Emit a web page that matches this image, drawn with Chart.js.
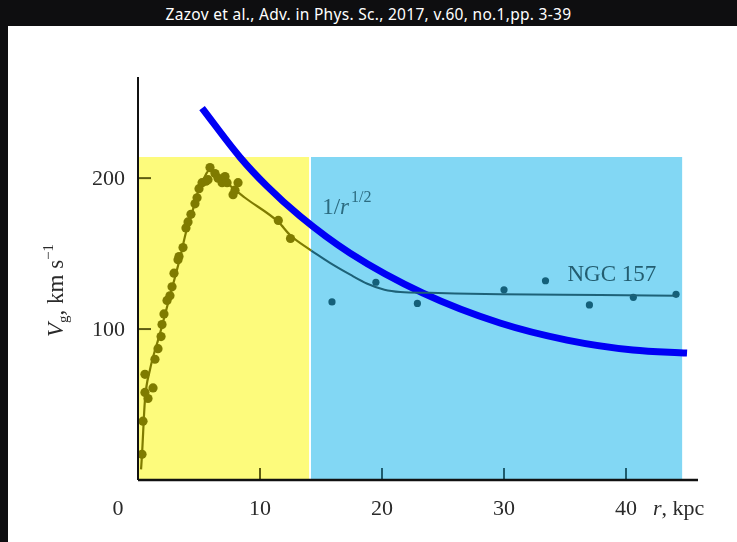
<!DOCTYPE html>
<html>
<head>
<meta charset="utf-8">
<script src="https://cdn.jsdelivr.net/npm/chart.js@4"></script>
<style>
  html, body { margin: 0; padding: 0; }
  body { width: 737px; height: 542px; background: #0e0e10; position: relative; overflow: hidden; }
  #caption { position: absolute; left: 0; top: 3px; width: 737px; text-align: center; color: #fff;
             font: 15.5px "Noto Sans", sans-serif; letter-spacing: 0.3px; }
  #panel { position: absolute; left: 8px; top: 26px; width: 729px; height: 516px; background: #fff; }
</style>
</head>
<body>
<div id="caption">Zazov et al., Adv. in Phys. Sc., 2017, v.60, no.1,pp. 3-39</div>
<div id="panel"><canvas id="rc" width="729" height="516"></canvas></div>
<script>
// measured points, inner part (olive, over yellow)
const innerR = [0.33, 0.41, 0.57, 0.82, 1.23, 0.57, 1.39, 1.64, 1.89, 1.97, 2.13, 2.38, 2.62, 2.79, 2.95, 3.28,
  3.36, 3.69, 3.93, 4.1, 4.34, 4.67, 4.84, 5.0, 5.25, 5.57, 5.74, 5.9, 6.31, 6.56, 6.89, 7.13, 7.3, 7.79, 7.95, 8.2, 11.5, 12.5]
const innerV = [17, 39, 58, 54, 61, 70, 80, 87, 95, 103, 110, 119, 122, 128, 137, 146,
  148, 154, 167, 171, 176, 183, 187, 193, 197, 198, 199, 207, 203, 200, 197, 201, 197, 189, 192, 197, 172, 160]

// measured points, outer part (teal, over blue)
const outerR = [15.9, 19.5, 22.9, 30.0, 33.4, 37.0, 40.6, 44.1]
const outerV = [118, 131, 117, 126, 132, 116, 121, 123]

// fitted rotation curve
const fitInR = [0.25, 0.33, 0.57, 0.98, 1.8, 2.62, 3.44, 3.93, 4.43, 4.92, 5.41, 5.82, 6.39, 7.54, 8.77, 11.5, 12.5, 14.2]
const fitInV = [7, 17, 53, 73, 97, 122, 147, 164, 177, 191, 200, 205, 202, 195, 187, 171, 162, 152]
const fitOutR = [14.2, 15.7, 17.4, 18.8, 20.2, 21.5, 23.9, 29.7, 37.9, 44.2]
const fitOutV = [152, 144, 136, 130, 126, 124.5, 124, 123, 122.5, 122]

// the blue 1/sqrt(r)-like curve drawn on top
const blueR = [5.25, 8.36, 10.57, 13.28, 17.38, 23.36, 29.67, 35.16, 40.57, 45.0]
const blueV = [246.4, 213.9, 194.7, 174.8, 150.3, 123.8, 104, 92.7, 86.1, 84.1]

// coloured bands
const bandFrom = [0, 14.18]
const bandTo = [14.02, 44.6]
const bandTop = [214, 214]
const bandColor = ['#fdfb7c', '#82d7f4']

const xTicks = [10, 20, 30, 40]
const yTicks = [100, 200]

const pts = (xs, ys) => xs.map((v, i) => ({ x: v, y: ys[i] }))

const SERIF = '"Liberation Serif", "DejaVu Serif", serif'

const decor = {
  id: 'decor',
  beforeDatasetsDraw(chart) {
    const { ctx, scales: { x, y } } = chart
    ctx.save()
    bandFrom.forEach((f, i) => {
      const x0 = x.getPixelForValue(f), x1 = x.getPixelForValue(bandTo[i])
      const y0 = y.getPixelForValue(bandTop[i]), y1 = y.getPixelForValue(0)
      ctx.fillStyle = bandColor[i]
      ctx.fillRect(x0, y0, x1 - x0, y1 - y0)
    })
    // inward tick marks
    ctx.lineWidth = 2
    xTicks.forEach(t => {
      const px = x.getPixelForValue(t)
      ctx.strokeStyle = t < 14 ? '#5e5c12' : '#1f5c6e'
      ctx.beginPath()
      ctx.moveTo(px, y.getPixelForValue(0))
      ctx.lineTo(px, y.getPixelForValue(0) - 12)
      ctx.stroke()
    })
    yTicks.forEach(t => {
      const py = y.getPixelForValue(t)
      ctx.strokeStyle = '#5e5c12'
      ctx.beginPath()
      ctx.moveTo(x.getPixelForValue(0), py)
      ctx.lineTo(x.getPixelForValue(0) + 13, py)
      ctx.stroke()
    })
    ctx.restore()
  },
  afterDatasetsDraw(chart) {
    const { ctx, chartArea, scales: { x, y } } = chart
    const x0 = x.getPixelForValue(0), y0 = y.getPixelForValue(0)
    ctx.save()
    // axes
    ctx.strokeStyle = '#111'
    ctx.lineWidth = 2
    ctx.beginPath()
    ctx.moveTo(x0, chartArea.top)
    ctx.lineTo(x0, y0)
    ctx.stroke()
    ctx.lineWidth = 2.5
    ctx.beginPath()
    ctx.moveTo(x0, y0)
    ctx.lineTo(chartArea.right, y0)
    ctx.stroke()

    // tick labels
    ctx.fillStyle = '#2a2a2a'
    ctx.font = '22px ' + SERIF
    ctx.textBaseline = 'middle'
    ctx.textAlign = 'right'
    yTicks.forEach(t => ctx.fillText(String(t), x0 - 13, y.getPixelForValue(t) + 1))
    ctx.textAlign = 'center'
    xTicks.forEach(t => ctx.fillText(String(t), x.getPixelForValue(t), y0 + 29))
    ctx.fillText('0', x0 - 20, y0 + 29)

    // x axis title
    ctx.textAlign = 'left'
    let tx = x.getPixelForValue(40) + 27
    ctx.font = 'italic 22px ' + SERIF
    ctx.fillText('r', tx, y0 + 29)
    tx += ctx.measureText('r').width
    ctx.font = '22px ' + SERIF
    ctx.fillText(', kpc', tx, y0 + 29)

    // y axis title, rotated
    ctx.save()
    ctx.translate(x0 - 83, (chartArea.top + y0) / 2 + 12)
    ctx.rotate(-Math.PI / 2)
    const parts = [
      { t: 'V', f: 'italic 23px ', dy: 0 },
      { t: 'g', f: '15px ', dy: 5 },
      { t: ', km s', f: '23px ', dy: 0 },
      { t: '\u22121', f: '15px ', dy: -10 }
    ]
    let w = 0
    parts.forEach(p => { ctx.font = p.f + SERIF; w += ctx.measureText(p.t).width })
    let px = -w / 2
    ctx.textBaseline = 'alphabetic'
    parts.forEach(p => {
      ctx.font = p.f + SERIF
      ctx.fillText(p.t, px, 8 + p.dy)
      px += ctx.measureText(p.t).width
    })
    ctx.restore()

    // in-plot annotations
    ctx.textBaseline = 'alphabetic'
    ctx.fillStyle = '#2c6b80'
    let ax = x.getPixelForValue(15.1), ay = y.getPixelForValue(176)
    ctx.font = '23px ' + SERIF
    ctx.fillText('1/', ax, ay)
    ax += ctx.measureText('1/').width
    ctx.font = 'italic 23px ' + SERIF
    ctx.fillText('r', ax, ay)
    ax += ctx.measureText('r').width + 2
    ctx.font = '16px ' + SERIF
    ctx.fillText('1/2', ax, ay - 12)

    ctx.fillStyle = '#235d70'
    ctx.font = '23px ' + SERIF
    ctx.fillText('NGC 157', x.getPixelForValue(35.2), y.getPixelForValue(132))
    ctx.restore()
  }
}

new Chart(document.getElementById('rc'), {
  type: 'scatter',
  data: {
    datasets: [
      {
        data: pts(fitInR, fitInV), showLine: true, borderColor: '#7f7b00', borderWidth: 2.2,
        pointRadius: 0, cubicInterpolationMode: 'monotone', clip: false
      },
      {
        data: pts(fitOutR, fitOutV), showLine: true, borderColor: '#1d6177', borderWidth: 2,
        pointRadius: 0, cubicInterpolationMode: 'monotone', clip: false
      },
      {
        data: pts(innerR, innerV), pointRadius: 4.6, backgroundColor: '#7f7b00',
        borderWidth: 0, clip: false
      },
      {
        data: pts(outerR, outerV), pointRadius: 3.6, backgroundColor: '#14607a',
        borderWidth: 0, clip: false
      },
      {
        data: pts(blueR, blueV), showLine: true, borderColor: '#0000f5', borderWidth: 7,
        pointRadius: 0, cubicInterpolationMode: 'monotone', clip: false
      }
    ]
  },
  options: {
    responsive: false,
    animation: false,
    layout: { padding: { left: 130, right: 39, top: 51, bottom: 62 } },
    plugins: { legend: { display: false }, tooltip: { enabled: false } },
    scales: {
      x: { type: 'linear', min: 0, max: 45.9, display: false },
      y: { type: 'linear', min: 0, max: 267, display: false }
    }
  },
  plugins: [decor]
})
</script>
</body>
</html>
